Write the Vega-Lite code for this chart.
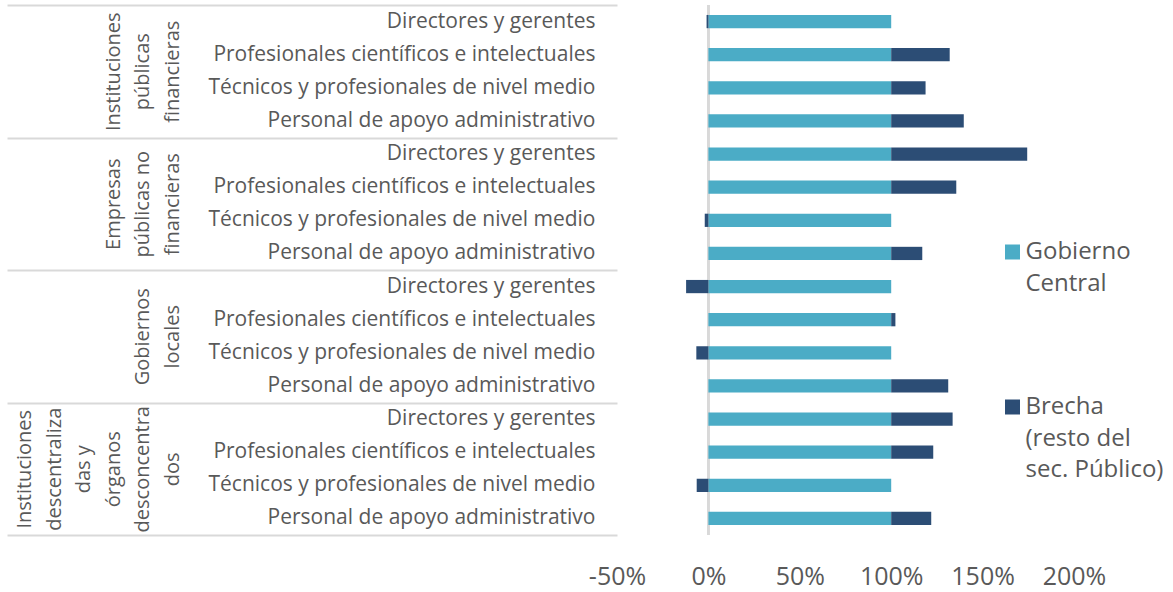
{
  "$schema": "https://vega.github.io/schema/vega-lite/v6.json",
  "width": 457,
  "height": 530,
  "autosize": {"type": "pad"},
  "padding": {"left": 6, "top": 4, "right": 0, "bottom": 0},
  "background": "white",
  "config": {
    "view": {"stroke": null},
    "font": "Open Sans",
    "axis": {"labelColor": "#595959", "labelFont": "Open Sans"},
    "legend": {"labelColor": "#595959", "labelFont": "Open Sans"},
    "style": {"guide-label": {"lineHeight": 31.5}}
  },
  "data": {
    "values": [
      {"grupo": "Instituciones públicas financieras", "ocupacion": "Directores y gerentes", "serie": "Gobierno Central", "valor": 100},
      {"grupo": "Instituciones públicas financieras", "ocupacion": "Directores y gerentes", "serie": "Brecha (resto del sec. Público)", "valor": -1},
      {"grupo": "Instituciones públicas financieras", "ocupacion": "Profesionales científicos e intelectuales", "serie": "Gobierno Central", "valor": 100},
      {"grupo": "Instituciones públicas financieras", "ocupacion": "Profesionales científicos e intelectuales", "serie": "Brecha (resto del sec. Público)", "valor": 32},
      {"grupo": "Instituciones públicas financieras", "ocupacion": "Técnicos y profesionales de nivel medio", "serie": "Gobierno Central", "valor": 100},
      {"grupo": "Instituciones públicas financieras", "ocupacion": "Técnicos y profesionales de nivel medio", "serie": "Brecha (resto del sec. Público)", "valor": 18.8},
      {"grupo": "Instituciones públicas financieras", "ocupacion": "Personal de apoyo administrativo", "serie": "Gobierno Central", "valor": 100},
      {"grupo": "Instituciones públicas financieras", "ocupacion": "Personal de apoyo administrativo", "serie": "Brecha (resto del sec. Público)", "valor": 39.7},
      {"grupo": "Empresas públicas no financieras", "ocupacion": "Directores y gerentes", "serie": "Gobierno Central", "valor": 100},
      {"grupo": "Empresas públicas no financieras", "ocupacion": "Directores y gerentes", "serie": "Brecha (resto del sec. Público)", "valor": 74.4},
      {"grupo": "Empresas públicas no financieras", "ocupacion": "Profesionales científicos e intelectuales", "serie": "Gobierno Central", "valor": 100},
      {"grupo": "Empresas públicas no financieras", "ocupacion": "Profesionales científicos e intelectuales", "serie": "Brecha (resto del sec. Público)", "valor": 35.6},
      {"grupo": "Empresas públicas no financieras", "ocupacion": "Técnicos y profesionales de nivel medio", "serie": "Gobierno Central", "valor": 100},
      {"grupo": "Empresas públicas no financieras", "ocupacion": "Técnicos y profesionales de nivel medio", "serie": "Brecha (resto del sec. Público)", "valor": -2},
      {"grupo": "Empresas públicas no financieras", "ocupacion": "Personal de apoyo administrativo", "serie": "Gobierno Central", "valor": 100},
      {"grupo": "Empresas públicas no financieras", "ocupacion": "Personal de apoyo administrativo", "serie": "Brecha (resto del sec. Público)", "valor": 17},
      {"grupo": "Gobiernos locales", "ocupacion": "Directores y gerentes", "serie": "Gobierno Central", "valor": 100},
      {"grupo": "Gobiernos locales", "ocupacion": "Directores y gerentes", "serie": "Brecha (resto del sec. Público)", "valor": -12.2},
      {"grupo": "Gobiernos locales", "ocupacion": "Profesionales científicos e intelectuales", "serie": "Gobierno Central", "valor": 100},
      {"grupo": "Gobiernos locales", "ocupacion": "Profesionales científicos e intelectuales", "serie": "Brecha (resto del sec. Público)", "valor": 2.3},
      {"grupo": "Gobiernos locales", "ocupacion": "Técnicos y profesionales de nivel medio", "serie": "Gobierno Central", "valor": 100},
      {"grupo": "Gobiernos locales", "ocupacion": "Técnicos y profesionales de nivel medio", "serie": "Brecha (resto del sec. Público)", "valor": -6.6},
      {"grupo": "Gobiernos locales", "ocupacion": "Personal de apoyo administrativo", "serie": "Gobierno Central", "valor": 100},
      {"grupo": "Gobiernos locales", "ocupacion": "Personal de apoyo administrativo", "serie": "Brecha (resto del sec. Público)", "valor": 31.2},
      {"grupo": "Instituciones descentralizadas y órganos desconcentrados", "ocupacion": "Directores y gerentes", "serie": "Gobierno Central", "valor": 100},
      {"grupo": "Instituciones descentralizadas y órganos desconcentrados", "ocupacion": "Directores y gerentes", "serie": "Brecha (resto del sec. Público)", "valor": 33.6},
      {"grupo": "Instituciones descentralizadas y órganos desconcentrados", "ocupacion": "Profesionales científicos e intelectuales", "serie": "Gobierno Central", "valor": 100},
      {"grupo": "Instituciones descentralizadas y órganos desconcentrados", "ocupacion": "Profesionales científicos e intelectuales", "serie": "Brecha (resto del sec. Público)", "valor": 23},
      {"grupo": "Instituciones descentralizadas y órganos desconcentrados", "ocupacion": "Técnicos y profesionales de nivel medio", "serie": "Gobierno Central", "valor": 100},
      {"grupo": "Instituciones descentralizadas y órganos desconcentrados", "ocupacion": "Técnicos y profesionales de nivel medio", "serie": "Brecha (resto del sec. Público)", "valor": -6.4},
      {"grupo": "Instituciones descentralizadas y órganos desconcentrados", "ocupacion": "Personal de apoyo administrativo", "serie": "Gobierno Central", "valor": 100},
      {"grupo": "Instituciones descentralizadas y órganos desconcentrados", "ocupacion": "Personal de apoyo administrativo", "serie": "Brecha (resto del sec. Público)", "valor": 21.9}
    ]
  },
  "transform": [{"calculate": "datum.grupo + '|' + datum.ocupacion", "as": "fila"}],
  "layer": [
    {
      "mark": {"type": "rule", "color": "#D9D9D9", "strokeWidth": 2},
      "encoding": {"x": {"datum": 0, "type": "quantitative"}}
    },
    {
      "mark": {"type": "bar"},
      "encoding": {
        "x": {
          "field": "valor",
          "type": "quantitative",
          "stack": "zero",
          "scale": {"domain": [-50, 200], "nice": false, "zero": false},
          "axis": {
            "title": null,
            "values": [-50, 0, 50, 100, 150, 200],
            "labelExpr": "datum.value + '%'",
            "grid": false,
            "domain": false,
            "ticks": false,
            "labelFlush": false,
            "labelOverlap": false,
            "labelBound": false,
            "labelFontSize": 25,
            "labelPadding": 29
          }
        },
        "y": {
          "field": "fila",
          "type": "nominal",
          "sort": null,
          "scale": {"paddingInner": 0.6, "paddingOuter": 0.3},
          "axis": {
            "orient": "left",
            "title": null,
            "labelExpr": "split(datum.label, '|')[1]",
            "ticks": false,
            "domain": false,
            "labelFontSize": 21,
            "labelPadding": 22,
            "labelLimit": 1000,
            "labelOverlap": false
          }
        },
        "color": {
          "field": "serie",
          "type": "nominal",
          "scale": {
            "domain": ["Gobierno Central", "Brecha (resto del sec. Público)"],
            "range": ["#4BACC6", "#2C4D75"]
          },
          "legend": {
            "title": null,
            "orient": "none",
            "legendX": 383.5,
            "legendY": 235,
            "symbolType": "square",
            "symbolSize": 225,
            "symbolStrokeWidth": 0,
            "labelFontSize": 24,
            "labelBaseline": "middle",
            "labelOffset": 1,
            "labelLimit": 400,
            "rowPadding": 99,
            "labelExpr": "datum.label == 'Gobierno Central' ? ['Gobierno', 'Central'] : ['Brecha', '(resto del', 'sec. Público)']"
          }
        },
        "order": {"field": "serie", "sort": "descending"}
      }
    },
    {
      "mark": {"type": "rule", "opacity": 0},
      "encoding": {
        "y": {
          "field": "grupo",
          "type": "nominal",
          "sort": null,
          "scale": {"paddingInner": 0, "paddingOuter": 0},
          "axis": {
            "orient": "left",
            "title": null,
            "domain": false,
            "ticks": true,
            "tickBand": "extent",
            "tickSize": 610,
            "tickColor": "#D9D9D9",
            "tickWidth": 2,
            "labelAngle": 270,
            "labelAlign": "center",
            "labelBaseline": "bottom",
            "labelPadding": {
              "condition": [
                {"test": "datum.value == 'Gobiernos locales'", "value": -145.5},
                {"test": "datum.value == 'Instituciones descentralizadas y órganos desconcentrados'", "value": -27.5}
              ],
              "value": -116
            },
            "labelFontSize": 20,
            "labelLineHeight": 29.5,
            "labelLimit": 1000,
            "labelOverlap": false,
            "labelExpr": "datum.label == '' ? '' : datum.label == 'Instituciones públicas financieras' ? ['Instituciones', 'públicas', 'financieras'] : datum.label == 'Empresas públicas no financieras' ? ['Empresas', 'públicas no', 'financieras'] : datum.label == 'Gobiernos locales' ? ['Gobiernos', 'locales'] : ['Instituciones', 'descentraliza', 'das y', 'órganos', 'desconcentra', 'dos']"
          }
        }
      }
    }
  ],
  "resolve": {"scale": {"y": "independent"}, "axis": {"y": "independent"}}
}
